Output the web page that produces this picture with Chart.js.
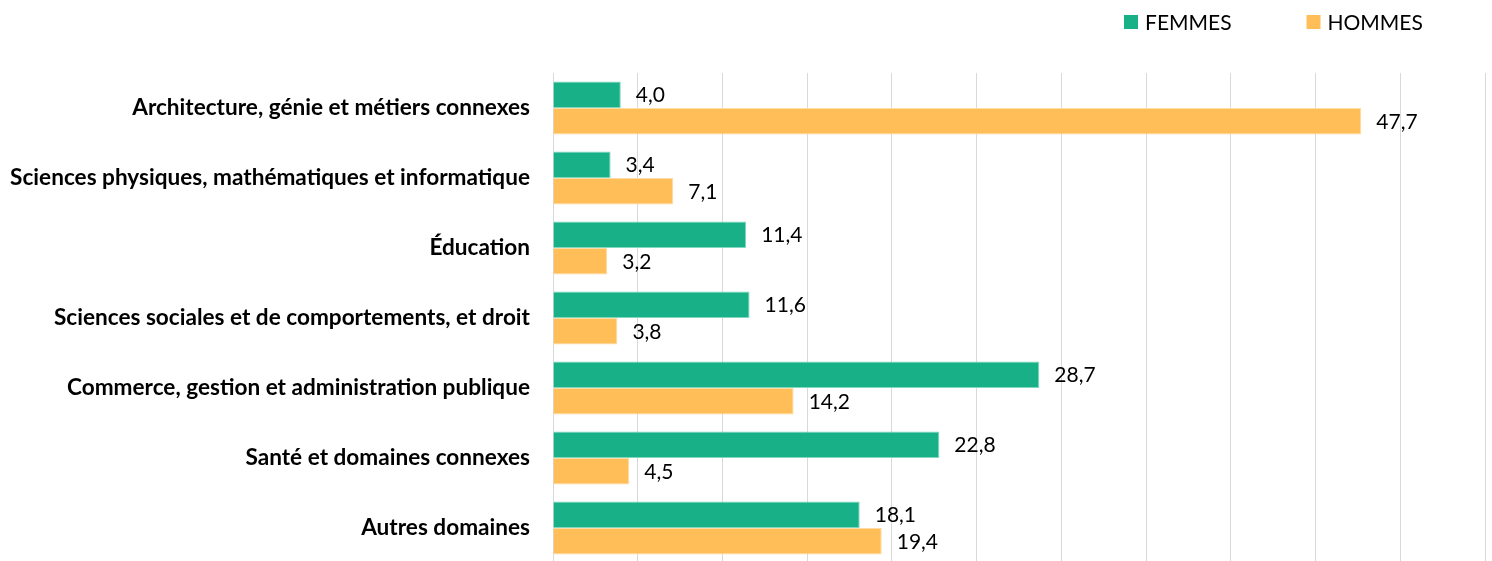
<!DOCTYPE html>
<html>
<head>
<meta charset="utf-8">
<script src="https://cdn.jsdelivr.net/npm/chart.js@4"></script>
<style>
  html, body { margin: 0; padding: 0; background: #fff; overflow: hidden; }
  #wrap { width: 1492px; height: 563px; }
</style>
</head>
<body>
<div id="wrap"><canvas id="domainChart"></canvas></div>
<script>
const categories = [
  "Architecture, génie et métiers connexes",
  "Sciences physiques, mathématiques et informatique",
  "Éducation",
  "Sciences sociales et de comportements, et droit",
  "Commerce, gestion et administration publique",
  "Santé et domaines connexes",
  "Autres domaines",
];
const femmes = [4.0, 3.4, 11.4, 11.6, 28.7, 22.8, 18.1];
const hommes = [47.7, 7.1, 3.2, 3.8, 14.2, 4.5, 19.4];
const seriesNames = ["FEMMES", "HOMMES"];

const FONT = "Lato, 'Open Sans', sans-serif";

// value labels at end of each bar, decimal comma
const valueLabels = {
  id: "valueLabels",
  afterDatasetsDraw(chart) {
    const ctx = chart.ctx;
    ctx.save();
    ctx.font = "21px " + FONT;
    ctx.fillStyle = "#000";
    ctx.textBaseline = "middle";
    ctx.textAlign = "left";
    chart.data.datasets.forEach((ds, i) => {
      chart.getDatasetMeta(i).data.forEach((bar, j) => {
        const txt = ds.data[j].toFixed(1).replace(".", ",");
        ctx.fillText(txt, bar.x + 15, bar.y + 1);
      });
    });
    ctx.restore();
  },
};

// legend drawn top right with wide gap between items
const topLegend = {
  id: "topLegend",
  afterDraw(chart) {
    const ctx = chart.ctx;
    ctx.save();
    ctx.font = "21px " + FONT;
    ctx.textBaseline = "middle";
    let x = 1124;
    const y = 22;
    chart.data.datasets.forEach((ds) => {
      ctx.fillStyle = ds.backgroundColor;
      ctx.fillRect(x, y - 7, 14, 14);
      ctx.fillStyle = "#000";
      ctx.fillText(ds.label, x + 21, y + 1);
      x += 21 + ctx.measureText(ds.label).width + 75;
    });
    ctx.restore();
  },
};

const ctx = document.getElementById("domainChart").getContext("2d");

new Chart(ctx, {
  type: "bar",
  data: {
    labels: categories,
    datasets: [
      {
        label: seriesNames[0],
        data: femmes,
        backgroundColor: "#17B087",
        borderColor: "#7fd7bd",
        borderWidth: 1,
        categoryPercentage: 0.76,
        barPercentage: 1.0,
      },
      {
        label: seriesNames[1],
        data: hommes,
        backgroundColor: "#FFBE57",
        borderColor: "#ffdca3",
        borderWidth: 1,
        categoryPercentage: 0.76,
        barPercentage: 1.0,
      },
    ],
  },
  options: {
    indexAxis: "y",
    responsive: true,
    maintainAspectRatio: false,
    animation: false,
    layout: {
      padding: { top: 73, right: 7, bottom: 0, left: 0 },
    },
    plugins: {
      legend: { display: false },
      tooltip: { enabled: false },
    },
    scales: {
      x: {
        min: 0,
        max: 55,
        ticks: { stepSize: 5, display: false },
        grid: { color: "#d9d9d9", lineWidth: 1, drawTicks: false },
        border: { display: false },
        afterFit(scale) {
          scale.height = 0;
          scale.paddingLeft = 0;
          scale.paddingRight = 0;
        },
      },
      y: {
        grid: { display: false },
        border: { display: false },
        ticks: {
          color: "#000",
          padding: 15,
          font: { family: FONT, size: 22.6, weight: "bold" },
        },
        afterFit(scale) {
          scale.width = 553;
          scale.paddingTop = 0;
          scale.paddingBottom = 0;
        },
      },
    },
  },
  plugins: [valueLabels, topLegend],
});
</script>
</body>
</html>
